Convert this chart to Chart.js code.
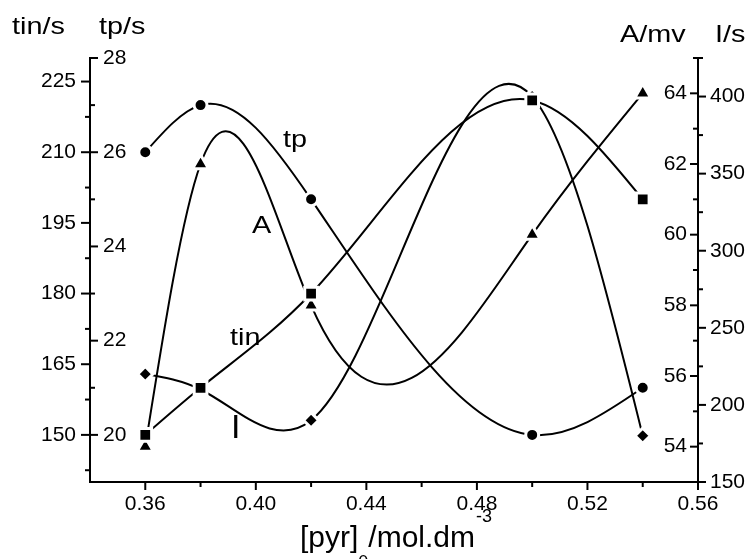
<!DOCTYPE html>
<html>
<head>
<meta charset="utf-8">
<script src="https://cdn.jsdelivr.net/npm/chart.js@4.4.0/dist/chart.umd.min.js"></script>
<style>
  html, body { margin: 0; padding: 0; background: #fff; }
  #wrap { width: 748px; height: 559px; position: relative; }
</style>
</head>
<body>
<div id="wrap"><canvas id="chart"></canvas></div>
<script>
// [pyr]0 / mol.dm-3
const conc = [0.36, 0.38, 0.42, 0.50, 0.54];
// series
const tin = [150, 160, 180, 221, 200];   // tin/s, squares
const tp = [26, 27, 25, 20, 21];         // tp/s, circles
const amp = [54, 62, 58, 60, 64];        // A/mv, triangles
const iSec = [220, 210, 190, 400, 180];  // I/s, diamonds

// tick labels
const xTicks = [0.36, 0.40, 0.44, 0.48, 0.52, 0.56];
const xMinor = [0.38, 0.42, 0.46, 0.50, 0.54];
const tinTicks = [150, 165, 180, 195, 210, 225];
const tinMinor = [142.5, 157.5, 172.5, 187.5, 202.5, 217.5];
const tpTicks = [20, 22, 24, 26, 28];
const tpMinor = [21, 23, 25, 27];
const aTicks = [54, 56, 58, 60, 62, 64];
const aMinor = [55, 57, 59, 61, 63, 65];
const iTicks = [150, 200, 250, 300, 350, 400];
const iMinor = [175, 225, 275, 325, 375, 425];

const FONT = 'Liberation Sans';

function fixedTicks(values) {
  return scale => { scale.ticks = values.map(v => ({ value: v })); };
}
function fixedWidth(w) {
  return scale => { scale.width = w; };
}
function yAxis(pos, weight, min, max, ticks, width, mirror, padding) {
  return {
    type: 'linear', position: pos, weight: weight, min: min, max: max,
    afterBuildTicks: fixedTicks(ticks),
    afterFit: fixedWidth(width),
    grid: { display: false, drawTicks: false },
    border: { display: true, color: '#000', width: 2 },
    ticks: { color: '#000', font: { family: FONT, size: 21 }, mirror: mirror, padding: padding, autoSkip: false }
  };
}

// natural cubic spline slopes at the knots (same curve type as the original plot)
function splineSlopes(xs, ys) {
  const n = xs.length;
  const h = [], s = [];
  for (let i = 0; i < n - 1; i++) {
    h[i] = xs[i + 1] - xs[i];
    s[i] = (ys[i + 1] - ys[i]) / h[i];
  }
  const M = new Array(n).fill(0);
  const a = [], b = [], c = [], d = [];
  for (let i = 1; i < n - 1; i++) {
    a[i] = h[i - 1]; b[i] = 2 * (h[i - 1] + h[i]); c[i] = h[i]; d[i] = 6 * (s[i] - s[i - 1]);
  }
  for (let i = 2; i < n - 1; i++) {
    const w = a[i] / b[i - 1];
    b[i] -= w * c[i - 1];
    d[i] -= w * d[i - 1];
  }
  for (let i = n - 2; i >= 1; i--) {
    M[i] = (d[i] - c[i] * M[i + 1]) / b[i];
  }
  const m = [];
  for (let i = 0; i < n - 1; i++) m[i] = s[i] - h[i] * (2 * M[i] + M[i + 1]) / 6;
  m[n - 1] = s[n - 2] + h[n - 2] * (M[n - 2] + 2 * M[n - 1]) / 6;
  return m;
}

const splinePlugin = {
  id: 'spline',
  beforeDatasetDraw(chart, args) {
    const meta = args.meta;
    const data = chart.data.datasets[args.index].data;
    const xs = data.map(p => p.x), ys = data.map(p => p.y);
    const m = splineSlopes(xs, ys);
    const xS = meta.xScale, yS = meta.yScale;
    const pts = meta.data;
    for (let i = 0; i < pts.length; i++) {
      if (i > 0) {
        const h = xs[i] - xs[i - 1];
        pts[i].cp1x = xS.getPixelForValue(xs[i] - h / 3);
        pts[i].cp1y = yS.getPixelForValue(ys[i] - m[i] * h / 3);
      }
      if (i < pts.length - 1) {
        const h = xs[i + 1] - xs[i];
        pts[i].cp2x = xS.getPixelForValue(xs[i] + h / 3);
        pts[i].cp2y = yS.getPixelForValue(ys[i] + m[i] * h / 3);
      }
    }
    meta.dataset._pointsUpdated = true;
  }
};

// tick marks: tin/tp on the left line, A/I on the right line
const tickPlugin = {
  id: 'tickMarks',
  afterDraw(chart) {
    const ctx = chart.ctx, area = chart.chartArea, sc = chart.scales;
    ctx.save();
    ctx.strokeStyle = '#000';
    ctx.lineWidth = 2;
    const vert = (scale, vals, x0, dir, len) => vals.forEach(v => {
      const y = scale.getPixelForValue(v);
      ctx.beginPath(); ctx.moveTo(x0, y); ctx.lineTo(x0 + dir * len, y); ctx.stroke();
    });
    vert(sc.yTin, tinTicks, area.left, -1, 9);
    vert(sc.yTin, tinMinor, area.left, -1, 5);
    vert(sc.yTp, tpTicks, area.left, 1, 8);
    vert(sc.yTp, tpMinor, area.left, 1, 5);
    vert(sc.yA, aTicks, area.right, -1, 8);
    vert(sc.yA, aMinor, area.right, -1, 5);
    vert(sc.yI, iTicks, area.right, 1, 8);
    vert(sc.yI, iMinor, area.right, 1, 5);
    const horiz = (vals, len) => vals.forEach(v => {
      const x = sc.x.getPixelForValue(v);
      ctx.beginPath(); ctx.moveTo(x, area.bottom); ctx.lineTo(x, area.bottom + len); ctx.stroke();
    });
    horiz(xTicks, 8);
    horiz(xMinor, 5);
    ctx.restore();
  }
};

function wideText(ctx, str, x, y, size, sx) {
  ctx.save();
  ctx.font = size + 'px "' + FONT + '"';
  ctx.translate(x, y);
  ctx.scale(sx, 1);
  ctx.fillText(str, 0, 0);
  ctx.restore();
}

const textPlugin = {
  id: 'texts',
  afterDraw(chart) {
    const ctx = chart.ctx;
    ctx.save();
    ctx.fillStyle = '#000';
    ctx.textAlign = 'left';
    ctx.textBaseline = 'alphabetic';
    // axis titles
    wideText(ctx, 'tin/s', 12, 34, 24, 1.2);
    wideText(ctx, 'tp/s', 99, 34, 24, 1.2);
    wideText(ctx, 'A/mv', 620, 42, 24, 1.2);
    wideText(ctx, 'I/s', 715, 42, 24, 1.2);
    // curve labels
    wideText(ctx, 'tp', 283, 147, 24, 1.2);
    wideText(ctx, 'A', 252, 233, 24, 1.2);
    wideText(ctx, 'tin', 230, 345, 24, 1.2);
    wideText(ctx, 'I', 231, 438, 34, 1);
    // x title with sub/superscript
    let x = 300;
    ctx.font = '30px "' + FONT + '"';
    ctx.fillText('[pyr]', x, 547);
    x += ctx.measureText('[pyr]').width;
    ctx.font = '18px "' + FONT + '"';
    ctx.fillText('0', x, 568);
    x += ctx.measureText('0').width;
    ctx.font = '30px "' + FONT + '"';
    ctx.fillText('/mol.dm', x, 547);
    x += ctx.measureText('/mol.dm').width;
    ctx.font = '18px "' + FONT + '"';
    ctx.fillText('-3', x + 1, 522);
    ctx.restore();
  }
};

function series(ys, axis, style, radius) {
  return {
    data: conc.map((x, i) => ({ x: x, y: ys[i] })),
    yAxisID: axis,
    showLine: true,
    borderColor: '#000',
    borderWidth: 2,
    tension: 0.4,
    fill: false,
    pointStyle: style,
    pointRadius: radius,
    pointHoverRadius: radius,
    pointBackgroundColor: '#000',
    pointBorderColor: '#fff',
    pointBorderWidth: 3
  };
}

new Chart(document.getElementById('chart').getContext('2d'), {
  type: 'scatter',
  data: {
    datasets: [
      series(tp, 'yTp', 'circle', 6.5),
      series(tin, 'yTin', 'rect', 9),
      series(amp, 'yA', 'triangle', 9.3),
      series(iSec, 'yI', 'rectRot', 7.6)
    ]
  },
  options: {
    responsive: true,
    maintainAspectRatio: false,
    animation: false,
    devicePixelRatio: 1,
    layout: { padding: { top: 58, left: 0, right: 0, bottom: 0 } },
    plugins: { legend: { display: false }, tooltip: { enabled: false } },
    scales: {
      x: {
        type: 'linear', position: 'bottom', min: 0.34, max: 0.56,
        afterBuildTicks: fixedTicks(xTicks),
        afterFit: scale => { scale.height = 77; },
        grid: { display: false, drawTicks: false },
        border: { display: true, color: '#000', width: 2 },
        ticks: { color: '#000', font: { family: FONT, size: 21 }, padding: 10, maxRotation: 0, autoSkip: false,
                 callback: v => v.toFixed(2) }
      },
      yTin: yAxis('left', 10, 140, 230, tinTicks, 90, false, 14),
      yTp: yAxis('left', 0, 19, 28, tpTicks, 0, true, 13),
      yA: yAxis('right', 0, 53, 65, aTicks, 0, true, -11),
      yI: yAxis('right', 10, 150, 425, iTicks, 50, false, 12)
    }
  },
  plugins: [splinePlugin, tickPlugin, textPlugin]
});
</script>
</body>
</html>
